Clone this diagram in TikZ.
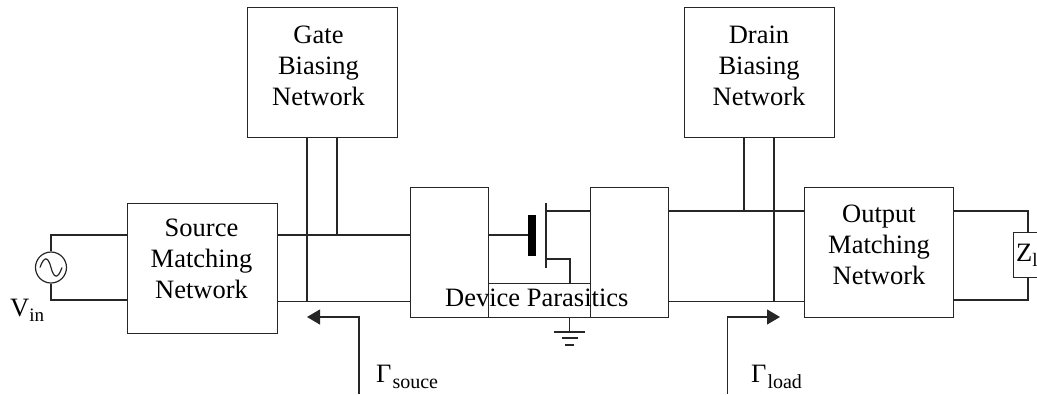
\documentclass[tikz,border=0pt]{standalone}
\usepackage{fontspec}
\setmainfont{Liberation Serif}
\usetikzlibrary{arrows.meta}
\newcommand\subt[1]{\raisebox{-0.21em}{\fontsize{19}{19}\selectfont #1}}
\newcommand\subg[1]{\kern1pt\raisebox{-0.24em}{\fontsize{20}{20}\selectfont #1}}
\tikzset{
  wire/.style={line width=1.2pt,draw=black!85},
  blockbox/.style={draw=black!85,line width=1.3pt,inner sep=0pt,anchor=north west},
  blocktext/.style={inner sep=0pt,align=center,font=\fontsize{26.5}{31}\selectfont},
  lbl/.style={inner sep=0pt,font=\fontsize{26.5}{30}\selectfont,anchor=base west},
  feed/.style={wire,-{Triangle[length=13pt,width=15pt]}}
}
\begin{document}
\begin{tikzpicture}[x=1pt,y=-1pt]
\useasboundingbox (0,0) rectangle (1037,394);
% blocks
\node[blockbox,minimum width=150pt,minimum height=130pt] (gate) at (247,7) {};
\node[blockbox,minimum width=150pt,minimum height=130pt] (drain) at (684,7) {};
\node[blockbox,minimum width=150.5pt,minimum height=130pt] (smn) at (126.5,203) {};
\node[blockbox,minimum width=149pt,minimum height=130pt] (omn) at (804,187) {};
\node[blockbox,minimum width=78pt,minimum height=130pt] (pl) at (410,187) {};
\node[blockbox,minimum width=78pt,minimum height=130pt] (pr) at (590,187) {};
\node[blockbox,minimum width=102pt,minimum height=34pt] (pm) at (488,283) {};
\node[blocktext] (gatet) at (318.5,66) {Gate\\Biasing\\Network};
\node[blocktext] (draint) at (759,66) {Drain\\Biasing\\Network};
\node[blocktext] (smnt) at (201.5,259) {Source\\Matching\\Network};
\node[blocktext] (omnt) at (879,245) {Output\\Matching\\Network};
\node[draw=black!85,line width=1.2pt,circle,minimum size=31pt,inner sep=0pt] (src) at (51,267.5) {};
\node[blockbox,minimum width=40pt,minimum height=45pt] (zl) at (1013,232) {};
\node[lbl] (ztxt) at (1016,261) {Z\subt{l}};
% source wave
\draw[wire] (40,267.5) .. controls (44,256) and (48,256) .. (51,267.5) .. controls (54,279) and (58,279) .. (62,267.5);
% wiring left
\coordinate (st) at (51,235); \coordinate (sb) at (51,300);
\draw[wire] (src.north) -- (st) -- (smn.west |- st);
\draw[wire] (src.south) -- (sb) -- (smn.west |- sb);
\coordinate (g1) at (307,301.5); \coordinate (g2) at (337,235);
\draw[wire] (smn.east |- g2) -- (pl.west |- g2);
\draw[wire] (smn.east |- g1) -- (pl.west |- g1);
\draw[wire] (gate.south -| g1) -- (g1);
\draw[wire] (gate.south -| g2) -- (g2);
% wiring right
\coordinate (d1) at (774,301.5); \coordinate (d2) at (744,211);
\draw[wire] (pr.east |- d2) -- (omn.west |- d2);
\draw[wire] (pr.east |- d1) -- (omn.west |- d1);
\draw[wire] (drain.south -| d1) -- (d1);
\draw[wire] (drain.south -| d2) -- (d2);
\coordinate (zt) at (1028,211); \coordinate (zb) at (1028,300);
\draw[wire] (omn.east |- zt) -- (zt) -- (zl.north -| zt);
\draw[wire] (omn.east |- zb) -- (zb) -- (zl.south -| zt);
% transistor
\node[fill=black,inner sep=0pt,minimum width=8pt,minimum height=41pt,anchor=north west] (gbar) at (528,215) {};
\coordinate (chT) at (546,203); \coordinate (chB) at (546,268);
\coordinate (dr) at (546,211); \coordinate (so) at (546,259); \coordinate (sc) at (570,259);
\draw[wire] (chT) -- (chB);
\draw[wire] (pl.east |- g2) -- (gbar.west |- g2);
\draw[wire] (dr) -- (pr.west |- dr);
\draw[wire] (so) -- (sc) -- (pm.north -| sc);
% ground
\coordinate (gt) at (569.5,332);
\draw[wire] (pm.south -| gt) -- (gt);
\draw[wire] (554,332) -- (585,332);
\draw[wire] (562,338) -- (578,338);
\draw[wire] (565,345) -- (574,345);
% device text
\node[lbl] (dev) at (445,306) {Device Parasitics};
% reflection arrows
\coordinate (a0) at (359,394); \coordinate (a1) at (359,317); \coordinate (a2) at (307,317);
\draw[feed] (a0) -- (a1) -- (a2);
\coordinate (b0) at (727.5,394); \coordinate (b1) at (727.5,317); \coordinate (b2) at (780,317);
\draw[feed] (b0) -- (b1) -- (b2);
% labels
\node[lbl] (vin) at (10,316) {V\subt{in}};
\node[lbl] (gs) at (376,382) {Γ\subg{souce}};
\node[lbl] (gl) at (751,382) {Γ\subg{load}};
\end{tikzpicture}
\end{document}
